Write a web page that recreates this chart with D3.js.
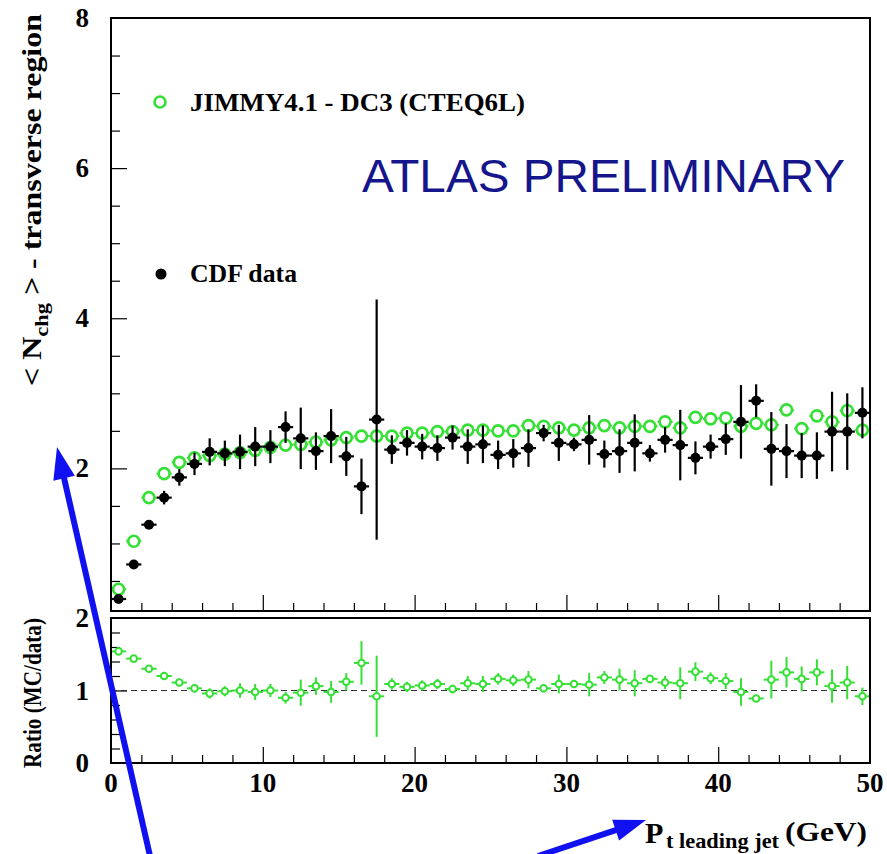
<!DOCTYPE html>
<html><head><meta charset="utf-8">
<script src="https://cdn.jsdelivr.net/npm/d3@7"></script>
<style>body{margin:0;background:#fff}svg{display:block}
.sf{font-family:"Liberation Serif","Times New Roman",Times,serif;font-weight:bold}
</style>
</head><body>
<script>
const binCenters = d3.range(50).map(i => i + 0.5);
const cdfData = [0.26,0.72,1.25,1.61,1.88,2.06,2.22,2.20,2.22,2.29,2.29,2.55,2.40,2.23,2.43,2.16,1.76,2.65,2.25,2.34,2.29,2.27,2.41,2.29,2.32,2.18,2.20,2.27,2.47,2.34,2.32,2.38,2.19,2.23,2.34,2.20,2.38,2.31,2.14,2.29,2.39,2.62,2.90,2.26,2.23,2.17,2.17,2.49,2.49,2.74];
const cdfErr = [0.02,0.03,0.04,0.09,0.11,0.15,0.18,0.17,0.23,0.26,0.22,0.21,0.41,0.25,0.36,0.26,0.37,1.60,0.19,0.17,0.17,0.17,0.16,0.23,0.25,0.19,0.19,0.25,0.11,0.24,0.09,0.33,0.18,0.29,0.38,0.11,0.17,0.47,0.22,0.16,0.21,0.49,0.22,0.49,0.36,0.30,0.31,0.53,0.51,0.34];
const mcData = [0.39,1.03,1.61,1.93,2.08,2.14,2.17,2.19,2.21,2.24,2.28,2.31,2.32,2.35,2.38,2.41,2.43,2.43,2.43,2.47,2.47,2.49,2.49,2.51,2.51,2.50,2.50,2.57,2.56,2.54,2.51,2.54,2.57,2.54,2.56,2.56,2.62,2.54,2.68,2.66,2.67,2.56,2.60,2.58,2.78,2.53,2.70,2.62,2.77,2.51];
const ratioData = [1.54,1.44,1.30,1.20,1.11,1.03,0.96,0.99,1.00,0.98,1.00,0.90,0.97,1.06,0.98,1.12,1.38,0.92,1.09,1.05,1.07,1.09,1.02,1.10,1.09,1.16,1.14,1.15,1.03,1.09,1.09,1.08,1.18,1.15,1.10,1.16,1.11,1.10,1.26,1.17,1.13,0.98,0.89,1.15,1.25,1.16,1.25,1.06,1.11,0.92];
const ratioErr = [0.03,0.03,0.03,0.04,0.05,0.06,0.07,0.07,0.10,0.11,0.09,0.08,0.18,0.12,0.15,0.12,0.30,0.56,0.08,0.07,0.07,0.07,0.06,0.10,0.11,0.08,0.08,0.12,0.05,0.13,0.04,0.16,0.09,0.15,0.18,0.05,0.09,0.22,0.13,0.08,0.11,0.19,0.05,0.26,0.21,0.17,0.18,0.23,0.23,0.12];
const xTickLabels = [0,10,20,30,40,50];
const yTopTickLabels = [2,4,6,8];
const yRatioTickLabels = [0,1,2];

const W = 887, H = 854;
const GREEN = "#35e035";
const svg = d3.select("body").append("svg").attr("width", W).attr("height", H);

const x = d3.scaleLinear().domain([0, 50]).range([111, 870]);
const yTop = d3.scaleLinear().domain([0.1, 8]).range([611, 18]);
const yRat = d3.scaleLinear().domain([0, 2]).range([763, 618]);
const half = 0.5;

// ---------- ticks ----------
function ticks(axisFn, scale, values, size, transform) {
  svg.append("g").attr("transform", transform)
    .call(axisFn(scale).tickValues(values).tickSize(-size).tickFormat(""))
    .call(g => g.select(".domain").remove())
    .call(g => g.selectAll("line").attr("stroke", "#000").attr("stroke-width", 1.2));
}
ticks(d3.axisLeft, yTop, d3.range(0.5, 8, 0.5).filter(v => v % 2 !== 0), 9, "translate(111,0)");
ticks(d3.axisLeft, yTop, [2,4,6], 16, "translate(111,0)");
ticks(d3.axisBottom, x, d3.range(2, 50, 2).filter(v => v % 10 !== 0), 8, "translate(0,611)");
ticks(d3.axisBottom, x, [10,20,30,40], 16, "translate(0,611)");
ticks(d3.axisLeft, yRat, d3.range(0.2, 2, 0.2).filter(v => Math.abs(v - 1) > 0.01), 9, "translate(111,0)");
ticks(d3.axisLeft, yRat, [1], 16, "translate(111,0)");
ticks(d3.axisBottom, x, d3.range(2, 50, 2).filter(v => v % 10 !== 0), 8, "translate(0,763)");
ticks(d3.axisBottom, x, [10,20,30,40], 16, "translate(0,763)");

svg.append("line").attr("x1", x(0)).attr("x2", x(50)).attr("y1", yRat(1)).attr("y2", yRat(1))
  .attr("stroke", "#333").attr("stroke-width", 1.2).attr("stroke-dasharray", "6,4");

// ---------- MC (green open circles) ----------
const mcG = svg.append("g");
mcG.selectAll("line.h").data(binCenters).join("line")
  .attr("x1", (d) => x(d - half)).attr("x2", (d) => x(d + half))
  .attr("y1", (d, i) => yTop(mcData[i])).attr("y2", (d, i) => yTop(mcData[i]))
  .attr("stroke", GREEN).attr("stroke-width", 2);
mcG.selectAll("circle").data(binCenters).join("circle")
  .attr("cx", d => x(d)).attr("cy", (d, i) => yTop(mcData[i])).attr("r", 5.5)
  .attr("fill", "#fff").attr("stroke", GREEN).attr("stroke-width", 2.6);

// ---------- CDF data (black) ----------
const dG = svg.append("g");
dG.selectAll("line.v").data(binCenters).join("line")
  .attr("x1", d => x(d)).attr("x2", d => x(d))
  .attr("y1", (d, i) => yTop(cdfData[i] - cdfErr[i])).attr("y2", (d, i) => yTop(cdfData[i] + cdfErr[i]))
  .attr("stroke", "#000").attr("stroke-width", 2.2);
dG.selectAll("line.h").data(binCenters).join("line")
  .attr("x1", d => x(d - half)).attr("x2", d => x(d + half))
  .attr("y1", (d, i) => yTop(cdfData[i])).attr("y2", (d, i) => yTop(cdfData[i]))
  .attr("stroke", "#000").attr("stroke-width", 2.2);
dG.selectAll("circle").data(binCenters).join("circle")
  .attr("cx", d => x(d)).attr("cy", (d, i) => yTop(cdfData[i])).attr("r", 5)
  .attr("fill", "#000");

// ---------- ratio ----------
const rG = svg.append("g");
rG.selectAll("line.v").data(binCenters).join("line")
  .attr("x1", d => x(d)).attr("x2", d => x(d))
  .attr("y1", (d, i) => yRat(ratioData[i] - ratioErr[i])).attr("y2", (d, i) => yRat(ratioData[i] + ratioErr[i]))
  .attr("stroke", GREEN).attr("stroke-width", 2);
rG.selectAll("line.h").data(binCenters).join("line")
  .attr("x1", d => x(d - half)).attr("x2", d => x(d + half))
  .attr("y1", (d, i) => yRat(ratioData[i])).attr("y2", (d, i) => yRat(ratioData[i]))
  .attr("stroke", GREEN).attr("stroke-width", 2);
rG.selectAll("circle").data(binCenters).join("circle")
  .attr("cx", d => x(d)).attr("cy", (d, i) => yRat(ratioData[i])).attr("r", 3.3)
  .attr("fill", "#fff").attr("stroke", GREEN).attr("stroke-width", 2);

// ---------- frames ----------
svg.append("rect").attr("x", 111).attr("y", 18).attr("width", 759).attr("height", 593)
  .attr("fill", "none").attr("stroke", "#000").attr("stroke-width", 2);
svg.append("rect").attr("x", 111).attr("y", 618).attr("width", 759).attr("height", 145)
  .attr("fill", "none").attr("stroke", "#000").attr("stroke-width", 2);

// ---------- tick labels ----------
const lab = svg.append("g").attr("class", "sf").attr("font-size", 27).attr("fill", "#000");
lab.selectAll("text.yt").data(yTopTickLabels).join("text")
  .attr("x", 89).attr("y", d => yTop(d) + 9).attr("text-anchor", "end").text(d => d);
lab.selectAll("text.yr").data(yRatioTickLabels).join("text")
  .attr("x", 89).attr("y", d => yRat(d) + 9).attr("text-anchor", "end").text(d => d);
lab.selectAll("text.xt").data(xTickLabels).join("text")
  .attr("x", d => x(d)).attr("y", 792).attr("text-anchor", "middle").text(d => d);

// ---------- axis titles ----------
const yt = svg.append("text").attr("class", "sf").attr("transform", "translate(41,386) rotate(-90)")
  .attr("font-size", 27).attr("textLength", 372).attr("lengthAdjust", "spacingAndGlyphs");
yt.append("tspan").text("< N");
yt.append("tspan").attr("font-size", 19).attr("dy", 7).text("chg");
yt.append("tspan").attr("dy", -7).text(" > - transverse region");

svg.append("text").attr("class", "sf").attr("transform", "translate(41,768) rotate(-90)")
  .attr("font-size", 25).attr("textLength", 150).attr("lengthAdjust", "spacingAndGlyphs").text("Ratio (MC/data)");

svg.append("text").attr("class", "sf").attr("x", 645).attr("y", 843).attr("font-size", 30).text("P");
svg.append("text").attr("class", "sf").attr("x", 666).attr("y", 848).attr("font-size", 21)
  .attr("textLength", 113).attr("lengthAdjust", "spacingAndGlyphs").text("t leading jet");
svg.append("text").attr("class", "sf").attr("x", 785).attr("y", 841).attr("font-size", 28)
  .attr("textLength", 82).attr("lengthAdjust", "spacingAndGlyphs").text("(GeV)");

// ---------- legend ----------
svg.append("circle").attr("cx", 160).attr("cy", 102).attr("r", 5.5)
  .attr("fill", "#fff").attr("stroke", GREEN).attr("stroke-width", 2.6);
svg.append("text").attr("class", "sf").attr("x", 190).attr("y", 111)
  .attr("font-size", 26).attr("textLength", 335).attr("lengthAdjust", "spacingAndGlyphs")
  .text("JIMMY4.1 - DC3 (CTEQ6L)");
svg.append("circle").attr("cx", 161).attr("cy", 274).attr("r", 5.5).attr("fill", "#000");
svg.append("text").attr("class", "sf").attr("x", 190).attr("y", 282)
  .attr("font-size", 26).attr("textLength", 107).attr("lengthAdjust", "spacingAndGlyphs")
  .text("CDF data");

svg.append("text").attr("x", 362).attr("y", 192)
  .style("font-family", "'Liberation Sans', Arial, sans-serif").attr("font-size", 46)
  .attr("fill", "#16168c").attr("textLength", 483).attr("lengthAdjust", "spacingAndGlyphs")
  .text("ATLAS PRELIMINARY");

// ---------- blue annotation arrows ----------
function arrow(x0, y0, x1, y1) {
  const dx = x1 - x0, dy = y1 - y0, L = Math.hypot(dx, dy);
  const ux = dx / L, uy = dy / L, hl = 32, hw = 11;
  const bx = x1 - ux * hl, by = y1 - uy * hl;
  svg.append("line").attr("x1", x0).attr("y1", y0).attr("x2", bx + ux * 4).attr("y2", by + uy * 4)
    .attr("stroke", "#1010f0").attr("stroke-width", 6);
  svg.append("path").attr("d", d3.line()([[x1, y1], [bx - uy * hw, by + ux * hw], [bx + uy * hw, by - ux * hw]]) + "Z")
    .attr("fill", "#1010f0");
}
arrow(150, 856, 57, 447);
arrow(538, 856, 646, 820);
</script>
</body></html>
